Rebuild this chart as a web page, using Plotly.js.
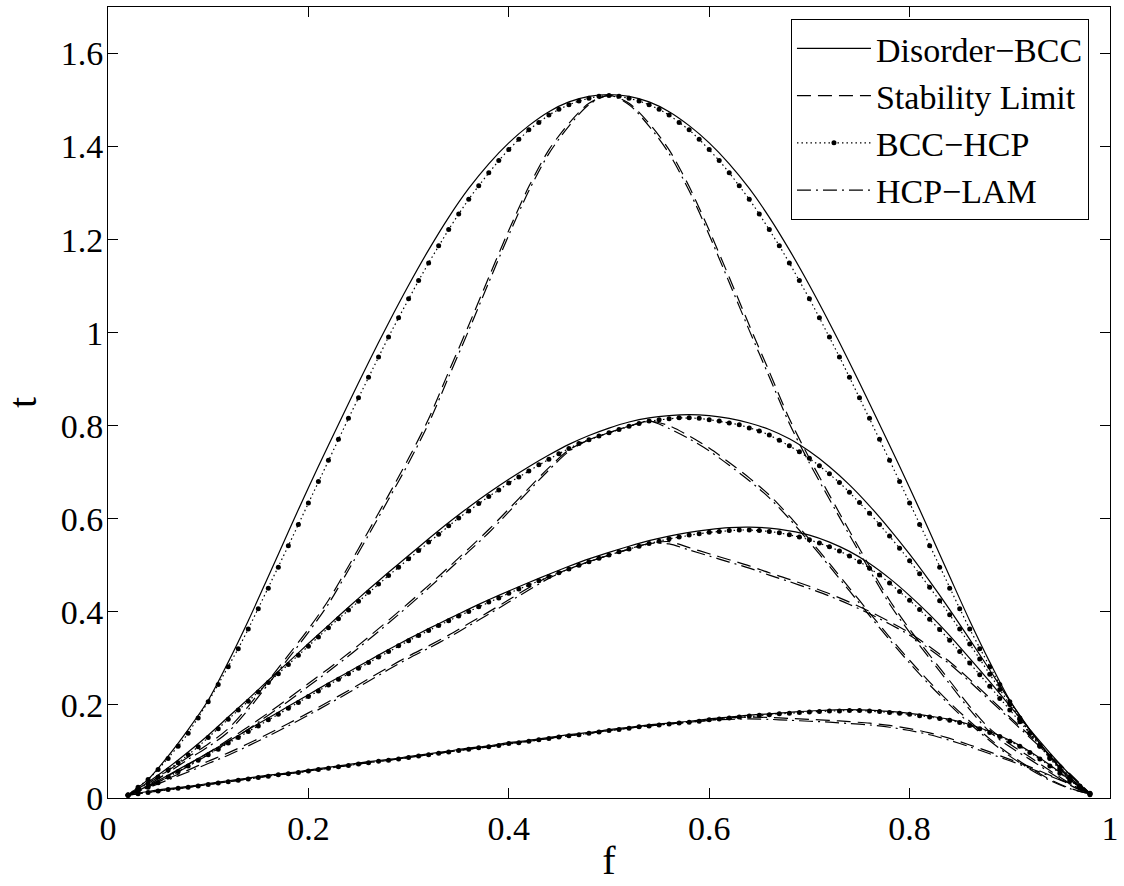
<!DOCTYPE html>
<html><head><meta charset="utf-8">
<script src="https://cdn.plot.ly/plotly-3.0.1.min.js"></script>
<style>html,body{margin:0;padding:0;background:#fff}</style>
</head><body><div id="plot" style="width:1124px;height:886px"></div>
<script>
// fine grid (dotted BCC-HCP, marker every point)
const fFine = [0.02,0.03,0.04,0.05,0.06,0.07,0.08,0.09,0.10,0.11,0.12,0.13,0.14,0.15,0.16,0.17,0.18,0.19,0.20,0.21,0.22,0.23,0.24,0.25,0.26,0.27,0.28,0.29,0.30,0.31,0.32,0.33,0.34,0.35,0.36,0.37,0.38,0.39,0.40,0.41,0.42,0.43,0.44,0.45,0.46,0.47,0.48,0.49,0.50,0.51,0.52,0.53,0.54,0.55,0.56,0.57,0.58,0.59,0.60,0.61,0.62,0.63,0.64,0.65,0.66,0.67,0.68,0.69,0.70,0.71,0.72,0.73,0.74,0.75,0.76,0.77,0.78,0.79,0.80,0.81,0.82,0.83,0.84,0.85,0.86,0.87,0.88,0.89,0.90,0.91,0.92,0.93,0.94,0.95,0.96,0.97,0.98];
// coarse grid (other curves)
const fCoarse = [0.02,0.04,0.06,0.08,0.10,0.12,0.14,0.16,0.18,0.20,0.22,0.24,0.26,0.28,0.30,0.32,0.34,0.36,0.38,0.40,0.42,0.44,0.46,0.48,0.50,0.52,0.54,0.56,0.58,0.60,0.62,0.64,0.66,0.68,0.70,0.72,0.74,0.76,0.78,0.80,0.82,0.84,0.86,0.88,0.90,0.92,0.94,0.96,0.98];

// Family A (top)
const bccA = [0.007,0.040,0.090,0.147,0.210,0.292,0.381,0.476,0.572,0.667,0.758,0.848,0.936,1.021,1.102,1.178,1.248,1.310,1.363,1.408,1.445,1.475,1.496,1.508,1.512,1.508,1.496,1.475,1.445,1.408,1.363,1.310,1.248,1.178,1.102,1.021,0.936,0.848,0.758,0.667,0.572,0.476,0.381,0.292,0.210,0.147,0.090,0.040,0.007];
const stabA = [0.007,0.031,0.059,0.088,0.116,0.149,0.197,0.252,0.307,0.363,0.425,0.498,0.574,0.651,0.730,0.815,0.916,1.016,1.119,1.220,1.314,1.393,1.450,1.493,1.510,1.493,1.450,1.393,1.314,1.220,1.119,1.016,0.916,0.815,0.730,0.651,0.574,0.498,0.425,0.363,0.307,0.252,0.197,0.149,0.116,0.088,0.059,0.031,0.007];
const hcpA = [0.007,0.023,0.040,0.061,0.085,0.111,0.139,0.172,0.207,0.244,0.282,0.321,0.363,0.407,0.451,0.496,0.542,0.588,0.634,0.680,0.726,0.771,0.816,0.860,0.904,0.948,0.991,1.032,1.073,1.112,1.150,1.187,1.222,1.255,1.287,1.316,1.344,1.370,1.394,1.416,1.436,1.452,1.468,1.480,1.490,1.498,1.504,1.508,1.510,1.508,1.504,1.498,1.490,1.480,1.468,1.452,1.436,1.416,1.394,1.370,1.344,1.316,1.287,1.255,1.222,1.187,1.150,1.112,1.073,1.032,0.991,0.948,0.904,0.860,0.816,0.771,0.726,0.680,0.634,0.588,0.542,0.496,0.451,0.407,0.363,0.321,0.282,0.244,0.207,0.172,0.139,0.111,0.085,0.061,0.040,0.023,0.007];
const lamA = [0.007,0.028,0.055,0.083,0.110,0.142,0.190,0.245,0.300,0.356,0.417,0.490,0.565,0.642,0.720,0.805,0.905,1.005,1.108,1.210,1.305,1.385,1.444,1.490,1.510,1.490,1.444,1.385,1.305,1.210,1.108,1.005,0.905,0.805,0.720,0.642,0.565,0.490,0.417,0.356,0.300,0.245,0.190,0.142,0.110,0.083,0.055,0.028,0.007];

// Family B
const bccB = [0.006,0.034,0.065,0.099,0.135,0.174,0.213,0.253,0.292,0.332,0.371,0.410,0.448,0.485,0.521,0.557,0.592,0.625,0.656,0.685,0.712,0.737,0.760,0.779,0.795,0.808,0.817,0.822,0.824,0.822,0.816,0.806,0.792,0.772,0.745,0.712,0.673,0.628,0.578,0.524,0.466,0.405,0.341,0.275,0.209,0.146,0.090,0.044,0.009];
const stabB = [0.006,0.026,0.048,0.072,0.097,0.125,0.153,0.183,0.214,0.246,0.278,0.311,0.346,0.382,0.419,0.457,0.496,0.536,0.577,0.621,0.666,0.710,0.748,0.770,0.785,0.799,0.810,0.800,0.778,0.752,0.721,0.688,0.651,0.606,0.556,0.504,0.451,0.398,0.346,0.296,0.249,0.205,0.165,0.127,0.094,0.065,0.040,0.021,0.009];
const hcpB = [0.006,0.018,0.031,0.045,0.060,0.076,0.093,0.110,0.130,0.149,0.169,0.189,0.208,0.228,0.248,0.267,0.287,0.307,0.326,0.346,0.366,0.385,0.404,0.423,0.442,0.460,0.478,0.496,0.514,0.532,0.550,0.567,0.585,0.602,0.617,0.633,0.648,0.662,0.677,0.690,0.703,0.716,0.728,0.740,0.751,0.762,0.770,0.778,0.785,0.792,0.799,0.805,0.810,0.813,0.815,0.817,0.817,0.816,0.813,0.810,0.806,0.802,0.795,0.789,0.780,0.769,0.757,0.744,0.730,0.714,0.697,0.678,0.657,0.635,0.612,0.588,0.563,0.537,0.510,0.482,0.453,0.424,0.394,0.363,0.331,0.299,0.266,0.233,0.201,0.170,0.140,0.112,0.086,0.063,0.042,0.024,0.009];
const lamB = [0.006,0.024,0.045,0.068,0.093,0.120,0.148,0.178,0.208,0.240,0.272,0.305,0.340,0.376,0.413,0.451,0.490,0.530,0.570,0.615,0.660,0.705,0.745,0.770,0.785,0.799,0.810,0.794,0.772,0.746,0.715,0.682,0.645,0.600,0.550,0.498,0.445,0.392,0.340,0.290,0.243,0.200,0.160,0.123,0.090,0.062,0.038,0.020,0.009];

// Family C
const bccC = [0.006,0.026,0.049,0.073,0.097,0.122,0.147,0.172,0.197,0.222,0.247,0.271,0.295,0.319,0.342,0.364,0.385,0.406,0.426,0.445,0.463,0.481,0.498,0.514,0.528,0.541,0.553,0.563,0.571,0.577,0.581,0.582,0.580,0.574,0.565,0.550,0.530,0.504,0.472,0.435,0.394,0.349,0.300,0.250,0.198,0.147,0.097,0.050,0.009];
const stabC = [0.006,0.024,0.042,0.060,0.079,0.097,0.117,0.138,0.160,0.183,0.207,0.231,0.256,0.281,0.305,0.327,0.350,0.375,0.400,0.426,0.452,0.476,0.492,0.508,0.522,0.535,0.547,0.551,0.538,0.525,0.512,0.499,0.484,0.470,0.455,0.439,0.421,0.401,0.379,0.355,0.325,0.293,0.255,0.215,0.174,0.134,0.093,0.052,0.010];
const hcpC = [0.006,0.014,0.023,0.033,0.045,0.057,0.069,0.081,0.093,0.105,0.118,0.130,0.143,0.155,0.168,0.180,0.193,0.205,0.218,0.230,0.243,0.255,0.267,0.279,0.291,0.303,0.315,0.327,0.338,0.349,0.360,0.371,0.381,0.391,0.401,0.411,0.421,0.430,0.440,0.449,0.458,0.467,0.476,0.484,0.492,0.500,0.508,0.515,0.522,0.529,0.535,0.541,0.547,0.552,0.557,0.561,0.565,0.568,0.571,0.573,0.575,0.576,0.576,0.575,0.573,0.570,0.566,0.561,0.555,0.548,0.540,0.531,0.520,0.508,0.494,0.479,0.462,0.444,0.425,0.405,0.384,0.362,0.339,0.315,0.290,0.265,0.240,0.214,0.189,0.164,0.139,0.114,0.090,0.067,0.045,0.025,0.009];
const lamC = [0.006,0.022,0.039,0.056,0.074,0.092,0.112,0.133,0.155,0.178,0.202,0.226,0.251,0.276,0.300,0.322,0.345,0.370,0.395,0.421,0.447,0.472,0.492,0.508,0.522,0.535,0.547,0.546,0.533,0.520,0.507,0.494,0.479,0.465,0.450,0.434,0.416,0.396,0.374,0.350,0.320,0.288,0.250,0.210,0.170,0.130,0.090,0.050,0.010];

// Family D (bottom)
const bccD = [0.006,0.014,0.020,0.025,0.031,0.037,0.043,0.049,0.054,0.060,0.066,0.072,0.078,0.083,0.089,0.095,0.101,0.107,0.112,0.119,0.124,0.130,0.136,0.141,0.147,0.152,0.157,0.161,0.165,0.170,0.174,0.178,0.181,0.184,0.187,0.189,0.190,0.189,0.186,0.182,0.176,0.169,0.158,0.143,0.124,0.100,0.071,0.039,0.010];
const stabD = [0.006,0.012,0.018,0.023,0.029,0.035,0.041,0.047,0.052,0.058,0.064,0.070,0.076,0.081,0.087,0.093,0.099,0.105,0.110,0.117,0.122,0.128,0.134,0.139,0.145,0.150,0.155,0.159,0.163,0.167,0.173,0.174,0.173,0.171,0.169,0.167,0.164,0.161,0.156,0.149,0.140,0.128,0.114,0.099,0.083,0.067,0.049,0.031,0.010];
const hcpD = [0.006,0.009,0.012,0.015,0.018,0.021,0.023,0.026,0.029,0.032,0.035,0.038,0.041,0.044,0.047,0.050,0.052,0.055,0.058,0.061,0.064,0.067,0.070,0.073,0.076,0.079,0.081,0.084,0.087,0.090,0.093,0.096,0.099,0.102,0.105,0.108,0.110,0.113,0.117,0.119,0.122,0.125,0.128,0.131,0.134,0.136,0.139,0.142,0.145,0.147,0.150,0.153,0.155,0.157,0.159,0.161,0.163,0.165,0.168,0.170,0.172,0.174,0.176,0.178,0.179,0.181,0.182,0.184,0.185,0.186,0.187,0.187,0.188,0.188,0.187,0.186,0.184,0.182,0.180,0.177,0.174,0.171,0.167,0.162,0.156,0.149,0.141,0.132,0.122,0.111,0.098,0.084,0.069,0.053,0.037,0.022,0.010];
const lamD = [0.006,0.012,0.018,0.023,0.029,0.035,0.041,0.047,0.052,0.058,0.064,0.070,0.076,0.081,0.087,0.093,0.099,0.105,0.110,0.117,0.122,0.128,0.134,0.139,0.145,0.150,0.155,0.159,0.163,0.167,0.169,0.170,0.169,0.167,0.165,0.163,0.160,0.157,0.152,0.145,0.136,0.124,0.110,0.095,0.080,0.064,0.047,0.030,0.010];

const xTicks = [0,0.2,0.4,0.6,0.8,1];
const xTickText = ["0","0.2","0.4","0.6","0.8","1"];
const yTicks = [0,0.2,0.4,0.6,0.8,1,1.2,1.4,1.6];
const yTickText = ["0","0.2","0.4","0.6","0.8","1","1.2","1.4","1.6"];
const names = ["Disorder\u2212BCC","Stability Limit","BCC\u2212HCP","HCP\u2212LAM"];

const families = [
  {bcc:bccA, stab:stabA, hcp:hcpA, lam:lamA},
  {bcc:bccB, stab:stabB, hcp:hcpB, lam:lamB},
  {bcc:bccC, stab:stabC, hcp:hcpC, lam:lamC},
  {bcc:bccD, stab:stabD, hcp:hcpD, lam:lamD}
];
const LW = 1.2;
const traces = [];
families.forEach((fam, i) => {
  const first = i === 0;
  traces.push({x:fCoarse, y:fam.bcc, type:'scatter', mode:'lines', name:names[0], legendgroup:'g0', legendrank:1, showlegend:first,
    line:{color:'#000', width:LW, shape:'spline', smoothing:0.8}});
  traces.push({x:fCoarse, y:fam.stab, type:'scatter', mode:'lines', name:names[1], legendgroup:'g1', legendrank:2, showlegend:first,
    line:{color:'#000', width:LW, dash:'14px,7px', shape:'spline', smoothing:0.8}});
  traces.push({x:fFine, y:fam.hcp, type:'scatter', mode:'lines+markers', name:names[2], legendgroup:'g2', legendrank:3, showlegend:first,
    line:{color:'#000', width:LW, dash:'1.5px,3px'}, marker:{color:'#000', size:5, symbol:'circle'}});
  traces.push({x:fCoarse, y:fam.lam, type:'scatter', mode:'lines', name:names[3], legendgroup:'g3', legendrank:4, showlegend:first,
    line:{color:'#000', width:LW, dash:'14px,5px,2px,5px', shape:'spline', smoothing:0.8}});
});

const fontFam = '"Liberation Serif", "Times New Roman", serif';
const layout = {
  width:1124, height:886,
  margin:{l:108, r:14, t:7, b:88},
  paper_bgcolor:'#fff', plot_bgcolor:'#fff',
  font:{family:fontFam, color:'#000', size:34},
  showlegend:true,
  legend:{x:0.979, y:0.985, xanchor:'right', yanchor:'top', bordercolor:'#000', borderwidth:1, bgcolor:'#fff',
    font:{family:fontFam, size:34, color:'#000'}, itemwidth:74, traceorder:'normal', tracegroupgap:0},
  xaxis:{range:[0,1], tickvals:xTicks, ticktext:xTickText, ticks:'inside', ticklen:10, tickcolor:'#000',
    showline:true, linecolor:'#000', linewidth:1, mirror:'ticks', showgrid:false, zeroline:false,
    ticklabelstandoff:0,
    tickfont:{family:fontFam, size:34}, title:{text:'f', font:{family:fontFam, size:40}, standoff:0}},
  yaxis:{range:[0,1.7], tickvals:yTicks, ticktext:yTickText, ticks:'inside', ticklen:10, tickcolor:'#000',
    showline:true, linecolor:'#000', linewidth:1, mirror:'ticks', showgrid:false, zeroline:false,
    ticklabelstandoff:-3,
    tickfont:{family:fontFam, size:34}, title:{text:'t', font:{family:fontFam, size:40}, standoff:20}}
};
Plotly.newPlot('plot', traces, layout, {displayModeBar:false, staticPlot:true});
</script></body></html>
